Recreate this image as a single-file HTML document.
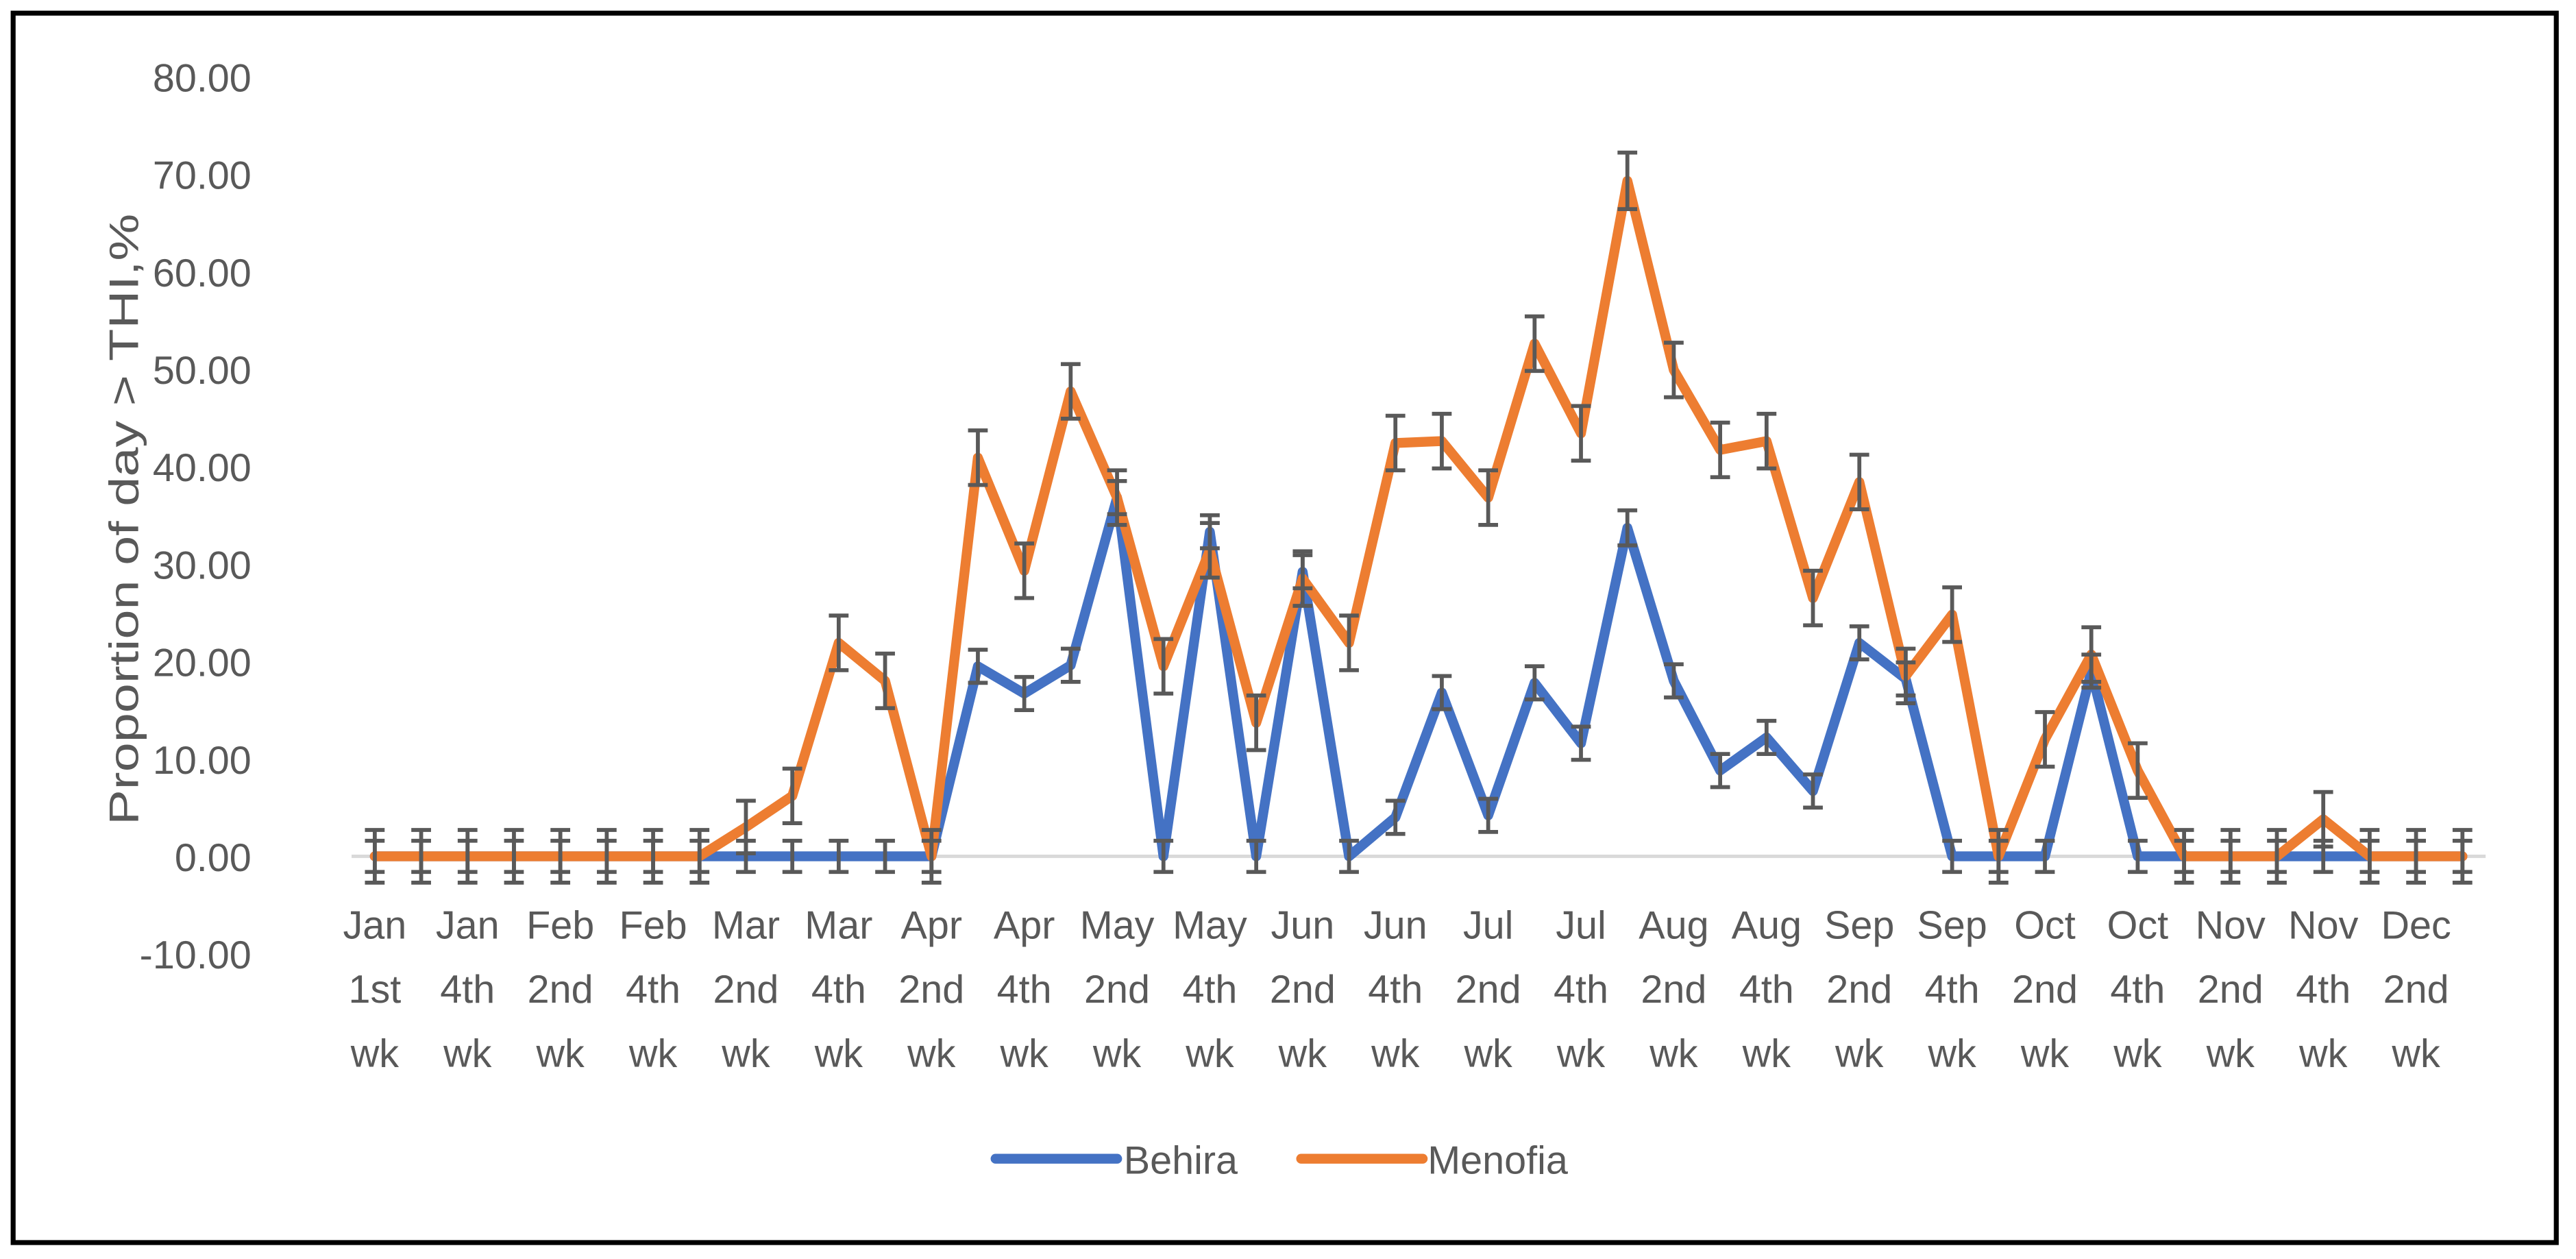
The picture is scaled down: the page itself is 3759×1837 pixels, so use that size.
<!DOCTYPE html>
<html><head><meta charset="utf-8"><style>
html,body{margin:0;padding:0;background:#fff;}
svg{display:block;}
text{font-family:"Liberation Sans",sans-serif;fill:#595959;}
</style></head><body>
<svg id="chart" width="3759" height="1837" viewBox="0 0 1568 766" preserveAspectRatio="none" xmlns="http://www.w3.org/2000/svg">
<rect x="8" y="8" width="1548" height="748" fill="#fff" stroke="#000" stroke-width="3"/>
<g id="yaxis"></g>
<g id="xaxis"></g>
<g id="series"></g>
<g id="errs"></g>
<text transform="translate(84,316) rotate(-90)" text-anchor="middle" font-size="25" textLength="372" lengthAdjust="spacingAndGlyphs">Proportion  of day  &gt; THI,%</text>
<g>
  <line x1="606" y1="705" x2="680" y2="705" stroke="#4472C4" stroke-width="6" stroke-linecap="round"/>
  <text x="684" y="714" font-size="24">Behira</text>
  <line x1="792" y1="705" x2="866" y2="705" stroke="#ED7D31" stroke-width="6" stroke-linecap="round"/>
  <text x="869" y="714" font-size="24">Menofia</text>
</g>
</svg>
<script>
const labelMonths = ["Jan","Jan","Feb","Feb","Mar","Mar","Apr","Apr","May","May","Jun","Jun","Jul","Jul","Aug","Aug","Sep","Sep","Oct","Oct","Nov","Nov","Dec"];
const labelWeeks = ["1st","4th","2nd","4th","2nd","4th","2nd","4th","2nd","4th","2nd","4th","2nd","4th","2nd","4th","2nd","4th","2nd","4th","2nd","4th","2nd"];
const yTicks = [-10,0,10,20,30,40,50,60,70,80];
const behira = [0,0,0,0,0,0,0,0,0,0,0,0,0,19.5,16.7,19.6,36.8,0,33.3,0,29.2,0,4,16.8,4.2,17.8,11.6,33.7,18,8.8,12.2,6.7,21.9,18.2,0,0,0,19,0,0,0,0,0,0,0,0];
const menofia = [0,0,0,0,0,0,0,0,3,6.2,21.9,18,0,40.9,29.3,47.7,36.8,19.5,31.4,13.7,28.5,21.9,42.4,42.6,36.8,52.6,43.4,69.3,49.9,41.7,42.6,26.5,38.4,18.5,24.8,0,12,20.7,8.8,0,0,0,3.8,0,0,0];
const errBehira = [1.6,1.6,1.6,1.6,1.6,1.6,1.6,1.6,1.6,1.6,1.6,1.6,1.6,1.7,1.7,1.7,1.7,1.6,1.7,1.6,1.7,1.6,1.7,1.7,1.7,1.7,1.7,1.8,1.7,1.7,1.7,1.7,1.7,1.7,1.6,1.6,1.6,1.7,1.6,1.6,1.6,1.6,1.6,1.6,1.6,1.6];
const errMenofia = [2.7,2.7,2.7,2.7,2.7,2.7,2.7,2.7,2.7,2.8,2.8,2.8,2.7,2.8,2.8,2.8,2.8,2.8,2.8,2.8,2.8,2.8,2.8,2.8,2.8,2.8,2.8,2.9,2.8,2.8,2.8,2.8,2.8,2.8,2.8,2.7,2.8,2.8,2.8,2.7,2.7,2.7,2.8,2.7,2.7,2.7];

const NS="http://www.w3.org/2000/svg";
const x0=214, x1=1513, yZero=521, yPer=5.93;
const n=behira.length;
const band=(x1-x0)/n;
function xs(i){return x0+band*(i+0.5);}
function ys(v){return yZero-v*yPer;}
function mk(tag,attrs,parent){const e=document.createElementNS(NS,tag);for(const k in attrs)e.setAttribute(k,attrs[k]);parent.appendChild(e);return e;}

const yaxis=document.getElementById('yaxis');
yTicks.forEach(t=>{
  const tx=mk('text',{x:153,y:ys(t)+9,'text-anchor':'end','font-size':24},yaxis);
  
  
  tx.textContent=t.toFixed(2);
});
const grid=mk('line',{x1:x0,x2:x1,y1:ys(0),y2:ys(0),stroke:'#d9d9d9','stroke-width':2},yaxis);



const xaxis=document.getElementById('xaxis');
labelMonths.forEach((m,k)=>{
  const cx=xs(k*2);
  const t=mk('text',{x:cx,'text-anchor':'middle','font-size':24},xaxis);
  
  
  [[m,571],[labelWeeks[k],610],['wk',649]].forEach(([s,y])=>{
    const ts=mk('tspan',{x:cx,y:y},t); ts.textContent=s;
  });
});

const series=document.getElementById('series');
function drawLine(vals,color,name){
  const d=vals.map((v,i)=>(i?'L':'M')+xs(i).toFixed(2)+' '+ys(v).toFixed(2)).join(' ');
  const p=mk('path',{d:d,fill:'none',stroke:color,'stroke-width':6,'stroke-linejoin':'round','stroke-linecap':'round'},series);
  
  
}
drawLine(behira,'#4472C4','behira-line');
drawLine(menofia,'#ED7D31','menofia-line');

const errs=document.getElementById('errs');
function drawErr(vals,err,name){
  vals.forEach((v,i)=>{
    const x=xs(i),yt=ys(v+err[i]),yb=ys(v-err[i]);
    const g=mk('path',{d:`M${x} ${yt}L${x} ${yb}M${x-6} ${yt}L${x+6} ${yt}M${x-6} ${yb}L${x+6} ${yb}`,stroke:'#595959','stroke-width':2.4,fill:'none'},errs);
    
    
  });
}
drawErr(behira,errBehira,'behira-error-bar');
drawErr(menofia,errMenofia,'menofia-error-bar');
</script>
</body></html>
